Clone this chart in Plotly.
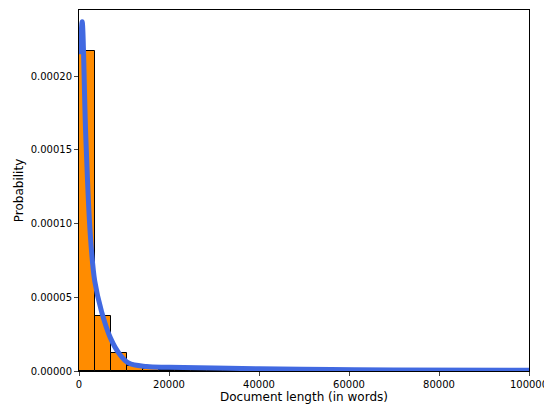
import plotly.graph_objects as go

bin_width = 3550
bin_heights = [0.000217, 0.0000372, 0.0000122, 0.0000034, 0.0000012, 0.0000008, 0.0000006,
               0.0000005, 0.0000004, 0.0000004, 0.0000003, 0.0000003, 0.0000002, 0.0000002,
               0.0000002, 0.0000001]
bin_centers = [bin_width * (i + 0.5) for i in range(len(bin_heights))]

kde_x = [300, 700, 1500, 2500, 3500, 5000, 7000, 9000, 11000, 15000, 20000, 30000, 40000,
         56000, 70000, 100000]
kde_y = [0.000215, 0.000237, 0.00016, 0.000093, 0.000061, 0.0000405, 0.0000223, 0.0000115,
         0.0000054, 0.000003, 0.0000025, 0.000002, 0.0000015, 0.000001, 0.0000007, 0.0000005]

fig = go.Figure()
fig.add_trace(go.Bar(x=bin_centers, y=bin_heights, width=bin_width,
                     marker=dict(color="darkorange", line=dict(color="black", width=1))))
fig.add_trace(go.Scatter(x=kde_x, y=kde_y, mode="lines", line=dict(color="royalblue", width=5, shape="spline")))

# page body adds 8px margin, so shift everything up/left by 8px
fig.update_layout(
    width=552, height=403, showlegend=False, bargap=0,
    plot_bgcolor="white", paper_bgcolor="white",
    margin=dict(l=71, r=31, t=2, b=40),
    font=dict(family="DejaVu Sans", size=10, color="black"),
)
fig.update_xaxes(range=[0, 100000], tickvals=[0, 20000, 40000, 60000, 80000, 100000],
                 tickformat="d", showgrid=False, zeroline=False, showline=True, mirror=True,
                 linecolor="black", ticks="outside", ticklen=4, automargin=False,
                 title=dict(text="Document length (in words)", standoff=2))
fig.update_yaxes(range=[0, 0.000245], tickvals=[0, 0.00005, 0.0001, 0.00015, 0.0002],
                 ticktext=["0.00000", "0.00005", "0.00010", "0.00015", "0.00020"],
                 showgrid=False, zeroline=False, showline=True, mirror=True,
                 linecolor="black", ticks="outside", ticklen=4, automargin=False,
                 title=dict(text="Probability", standoff=4))
fig.write_html("out.html")
